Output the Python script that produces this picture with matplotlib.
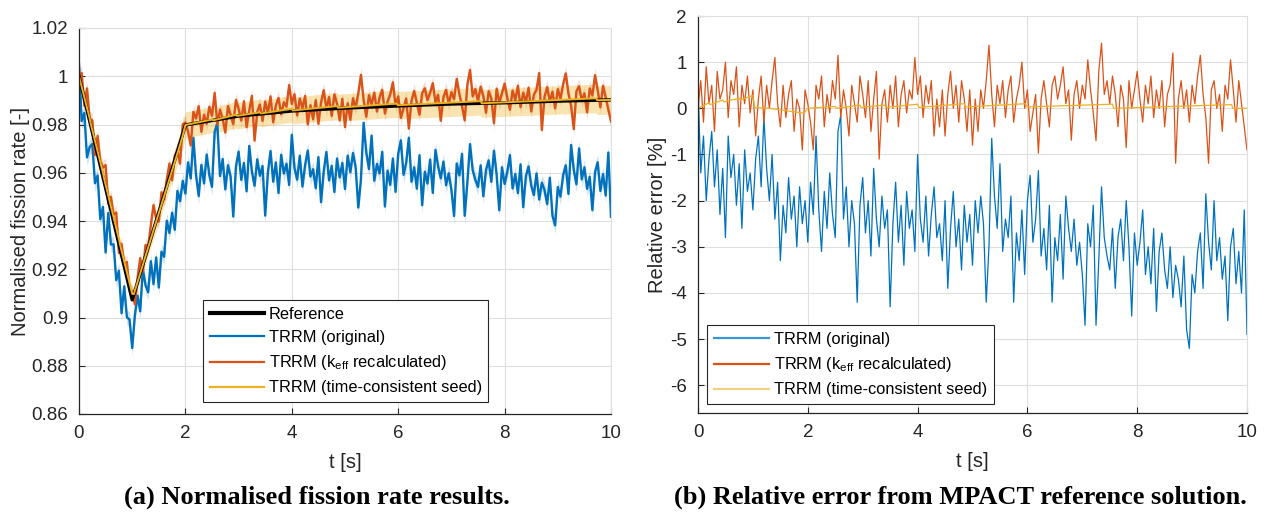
import numpy as np
import matplotlib
matplotlib.use('Agg')
import matplotlib.pyplot as plt
from matplotlib.lines import Line2D

plt.rcParams['font.family'] = ['Liberation Sans', 'DejaVu Sans']
plt.rcParams['mathtext.fontset'] = 'custom'
plt.rcParams['mathtext.rm'] = 'Liberation Sans'
plt.rcParams['mathtext.it'] = 'Liberation Sans:italic'

# time grid of the TRRM results (0.05 s steps)
t = np.arange(201) * 0.05

# MPACT reference (normalised fission rate)
ref_t = [0, 1, 2, 3, 4, 5, 6, 7, 8, 9, 10]
ref_val = [1.0, 0.9073, 0.9798, 0.9835, 0.9856, 0.9868, 0.9877, 0.9885, 0.9890, 0.9897, 0.9902]

# relative error [%] of TRRM (original)
err_orig = [
    0.5, -1.4, -0.6, -2.0, -1.1, -0.5, -1.7, -0.9, -2.3, -1.3,
    -2.8, -0.6, -1.5, -1.0, -2.1, -1.2, -2.6, -0.9, -1.8, -1.4,
    -2.2, -1.1, -0.6, -1.7, -0.2, -1.3, -2.0, -1.0, -2.4, -1.6,
    -3.3, -2.1, -2.7, -1.5, -2.4, -1.9, -3.0, -1.7, -2.5, -2.0,
    -2.9, -1.6, -2.3, -0.6, -2.2, -3.1, -1.8, -2.6, -1.4, -2.3,
    -2.8, -0.5, -0.15, -2.4, -1.7, -3.0, -2.0, -2.5, -4.2, -2.1,
    -1.5, -2.7, -2.0, -3.2, -1.3, -2.4, -3.0, -1.9, -2.6, -2.2,
    -4.3, -2.5, -1.6, -2.9, -2.1, -3.4, -1.8, -2.6, -2.2, -3.1,
    -1.0, -2.4, -2.9, -1.9, -3.2, -2.3, -1.7, -2.8, -2.5, -3.3,
    -2.0, -3.9, -2.6, -1.8, -3.0, -2.4, -3.5, -2.1, -2.9, -2.3,
    -3.4, -2.0, -2.7, -1.9, -2.5, -4.2, -3.0, -0.65, -1.9, -2.6,
    -1.2, -3.1, -2.4, -2.8, -1.9, -4.2, -2.7, -3.3, -2.2, -3.6,
    -2.0, -1.45, -2.9, -2.4, -1.35, -3.2, -2.6, -3.5, -2.1, -4.2,
    -2.8, -3.3, -2.3, -3.7, -1.9, -2.6, -3.1, -2.4, -3.4, -2.9,
    -3.6, -4.7, -2.5, -3.0, -2.1, -4.7, -3.3, -1.7, -2.8, -3.2,
    -3.5, -2.6, -3.9, -2.8, -2.4, -3.3, -2.0, -3.0, -4.5, -2.7,
    -3.4, -2.9, -2.2, -3.6, -3.0, -3.8, -2.6, -4.4, -3.1, -2.7,
    -3.5, -3.9, -3.0, -4.1, -3.4, -3.7, -4.3, -3.2, -4.8, -5.2,
    -3.6, -4.0, -3.1, -2.7, -3.9, -1.85, -2.9, -3.5, -2.0, -3.3,
    -2.8, -3.7, -3.2, -4.6, -3.0, -2.6, -3.8, -3.1, -4.0, -2.2,
    -4.9,
]

# relative error [%] of TRRM (k_eff recalculated)
err_keff = [
    0.0, 0.6, -0.3, 0.9, 0.1, 0.5, -0.5, 0.8, 0.2, 0.4,
    1.0, -0.2, 0.6, 0.3, 0.9, -0.4, 0.5, 0.1, 0.7, -0.1,
    0.4, -0.6, 0.2, 0.7, -0.3, 0.5, 0.0, 0.6, 1.1, 0.1,
    -0.4, 0.5, -0.2, 0.3, 0.6, -0.5, 0.2, 0.0, -0.9, 0.4,
    0.1, -0.3, -0.9, 0.5, 0.2, 0.7, -0.4, 0.3, -0.1, 0.6,
    0.2, 1.15, -0.2, 0.4, 0.0, -0.6, 0.5, 0.1, -0.3, 0.7,
    0.3, -0.2, 0.6, -0.5, 0.2, 0.8, -1.1, 0.1, 0.4, -0.3,
    0.5, 0.0, 0.7, -0.4, 0.3, 0.6, -0.1, 0.4, 0.2, 1.1,
    0.3, 0.7, -0.2, 0.5, 0.1, 0.6, -0.6, 0.2, -0.4, 0.4,
    -0.6, 0.3, 0.8, 0.0, 0.5, -0.3, 0.6, 0.2, -0.5, 0.4,
    -0.8, 0.2, -0.5, 0.4, 0.0, 0.6, 1.37, 0.3, -0.4, 0.5,
    0.1, 0.6, -0.2, 0.4, 0.7, -0.3, 0.2, 0.5, 1.0, 0.0,
    0.4, -0.5, -0.1, 0.3, -0.97, 0.2, 0.6, 0.1, -0.4, 0.5,
    0.7, 0.2, 0.5, 0.9, 0.1, 0.4, -0.69, 0.3, 0.6, 0.0,
    0.5, 0.2, 1.05, 0.4, -0.1, -0.7, 0.8, 1.41, 0.3, 0.6,
    0.1, 0.7, 0.3, -0.4, 0.5, 0.2, -0.85, 0.6, 0.0, 0.4,
    0.8, 0.2, -0.3, 0.5, 0.1, 0.7, -0.2, 0.4, 0.0, 0.6,
    -0.4, 0.3, 0.5, 1.2, -1.19, 0.2, 0.6, 0.0, 0.4, -0.3,
    0.5, 0.1, 0.7, 1.15, 0.3, -0.2, -1.19, 0.4, 0.6, 0.0,
    0.3, -0.5, 0.5, 0.2, 1.05, 0.4, -0.3, 0.6, 0.1, -0.4,
    -0.9,
]

# relative error [%] of TRRM (time-consistent seed)
seed_t = [0, 0.2, 0.22, 0.45, 0.47, 0.75, 0.77, 1.0, 1.03, 1.3, 1.6, 1.9, 1.95, 2.0,
          2.5, 2.52, 2.95, 2.97, 3.4, 3.42, 4.0, 4.02, 4.85, 4.87, 5.97, 5.99,
          7.55, 7.57, 9.72, 9.74, 10.0]
seed_err = [0.0, 0.12, 0.08, 0.18, 0.14, 0.22, 0.18, 0.28, 0.02, 0.0, -0.05, -0.1, -0.08, 0.0,
            0.04, 0.0, 0.07, 0.02, 0.07, 0.02, 0.09, 0.02, 0.1, 0.03, 0.1, 0.03,
            0.09, 0.0, 0.08, 0.0, 0.0]

# statistical uncertainty bands [% of value]
band_orig = 0.35
band_keff = 0.30
seed_band_t = [0, 1, 2, 10]
seed_band = [0.3, 0.3, 0.55, 0.6]

C_BLUE = '#0072BD'
C_ORANGE = '#D95319'
C_YELLOW = '#EDB120'
C_TEXT = '#262626'

err_orig = np.array(err_orig)
err_keff = np.array(err_keff)
seed_t = np.array(seed_t)
seed_err = np.array(seed_err)

ref_on_t = np.interp(t, ref_t, ref_val)
ref_on_seed = np.interp(seed_t, ref_t, ref_val)
orig = ref_on_t * (1 + err_orig / 100)
keff = ref_on_t * (1 + err_keff / 100)
seed = ref_on_seed * (1 + seed_err / 100)
seed_bw = np.interp(seed_t, seed_band_t, seed_band) / 100 * seed

fig = plt.figure(figsize=(12.65, 5.14), dpi=100)
ax1 = fig.add_axes([79 / 1265, 1 - 414 / 514, 532 / 1265, 386 / 514])
ax2 = fig.add_axes([698 / 1265, 1 - 413 / 514, 549 / 1265, 397 / 514])


def style_axes(ax):
    ax.grid(True, color='#DFDFDF', lw=0.8)
    ax.set_axisbelow(True)
    for s in ['top', 'right']:
        ax.spines[s].set_color('#DFDFDF')
        ax.spines[s].set_linewidth(0.8)
    for s in ['left', 'bottom']:
        ax.spines[s].set_color(C_TEXT)
        ax.spines[s].set_linewidth(0.9)
    ax.tick_params(direction='in', length=4, width=0.8, colors=C_TEXT,
                   labelsize=13.5, top=False, right=False, pad=8)


# (a) normalised fission rate
ax1.fill_between(t, orig * (1 - band_orig / 100), orig * (1 + band_orig / 100),
                 color=C_BLUE, alpha=0.2, lw=0)
ax1.plot(t, orig, color=C_BLUE, lw=1.7)
ax1.fill_between(t, keff * (1 - band_keff / 100), keff * (1 + band_keff / 100),
                 color=C_ORANGE, alpha=0.2, lw=0)
ax1.plot(t, keff, color=C_ORANGE, lw=1.7)
ax1.fill_between(seed_t, seed - seed_bw, seed + seed_bw, color=C_YELLOW, alpha=0.35, lw=0)
ax1.plot(ref_t, ref_val, color='black', lw=2.4)
ax1.plot(seed_t, seed, color=C_YELLOW, lw=1.4)

ax1.set_xlim(0, 10)
ax1.set_ylim(0.86, 1.02)
ax1.set_xticks([0, 2, 4, 6, 8, 10])
ax1.set_yticks([0.86, 0.88, 0.9, 0.92, 0.94, 0.96, 0.98, 1.0, 1.02])
ax1.set_yticklabels(['0.86', '0.88', '0.9', '0.92', '0.94', '0.96', '0.98', '1', '1.02'])
style_axes(ax1)
ax1.set_xlabel('t [s]', fontsize=14.5, color=C_TEXT, labelpad=8)
ax1.set_ylabel('Normalised fission rate [-]', fontsize=14.5, color=C_TEXT, labelpad=1)

h1 = [Line2D([], [], color='black', lw=3),
      Line2D([], [], color=C_BLUE, lw=1.6),
      Line2D([], [], color=C_ORANGE, lw=1.6),
      Line2D([], [], color=C_YELLOW, lw=1.6)]
l1 = ['Reference', 'TRRM (original)', r'TRRM (k$_{\mathrm{eff}}$ recalculated)',
      'TRRM (time-consistent seed)']
leg1 = ax1.legend(h1, l1, loc='lower left', bbox_to_anchor=(0.233, 0.031),
                  borderaxespad=0, fancybox=False, framealpha=1, edgecolor=C_TEXT,
                  fontsize=11.8, handlelength=3.3, handletextpad=0.3,
                  labelspacing=0.5, borderpad=0.4)
leg1.get_frame().set_linewidth(0.8)

# (b) relative error
ax2.plot(t, err_orig, color=C_BLUE, lw=0.9)
ax2.plot(t, err_keff, color=C_ORANGE, lw=0.9)
ax2.plot(seed_t, seed_err, color=C_YELLOW, lw=0.9)

ax2.set_xlim(0, 10)
ax2.set_ylim(-6.6, 2)
ax2.set_xticks([0, 2, 4, 6, 8, 10])
ax2.set_yticks([-6, -5, -4, -3, -2, -1, 0, 1, 2])
ax2.set_yticklabels(['-6', '-5', '-4', '-3', '-2', '-1', '0', '1', '2'])
style_axes(ax2)
ax2.set_xlabel('t [s]', fontsize=14.5, color=C_TEXT, labelpad=8)
ax2.set_ylabel('Relative error [%]', fontsize=14.5, color=C_TEXT, labelpad=2)

h2 = [Line2D([], [], color='#3E93D3', lw=1.6),
      Line2D([], [], color=C_ORANGE, lw=1.6),
      Line2D([], [], color='#F3D27F', lw=1.6)]
l2 = ['TRRM (original)', r'TRRM (k$_{\mathrm{eff}}$ recalculated)', 'TRRM (time-consistent seed)']
leg2 = ax2.legend(h2, l2, loc='lower left', bbox_to_anchor=(0.0164, 0.0227),
                  borderaxespad=0, fancybox=False, framealpha=1, edgecolor=C_TEXT,
                  fontsize=11.8, handlelength=3.4, handletextpad=0.3,
                  labelspacing=0.5, borderpad=0.4)
leg2.get_frame().set_linewidth(0.8)

fig.text(317 / 1265, 1 - 497 / 514, '(a) Normalised fission rate results.',
         ha='center', va='center', fontsize=19, fontweight='bold',
         family=['Liberation Serif', 'DejaVu Serif'])
fig.text(960 / 1265, 1 - 497 / 514, '(b) Relative error from MPACT reference solution.',
         ha='center', va='center', fontsize=19, fontweight='bold',
         family=['Liberation Serif', 'DejaVu Serif'])

fig.savefig('out.png', dpi=100)
